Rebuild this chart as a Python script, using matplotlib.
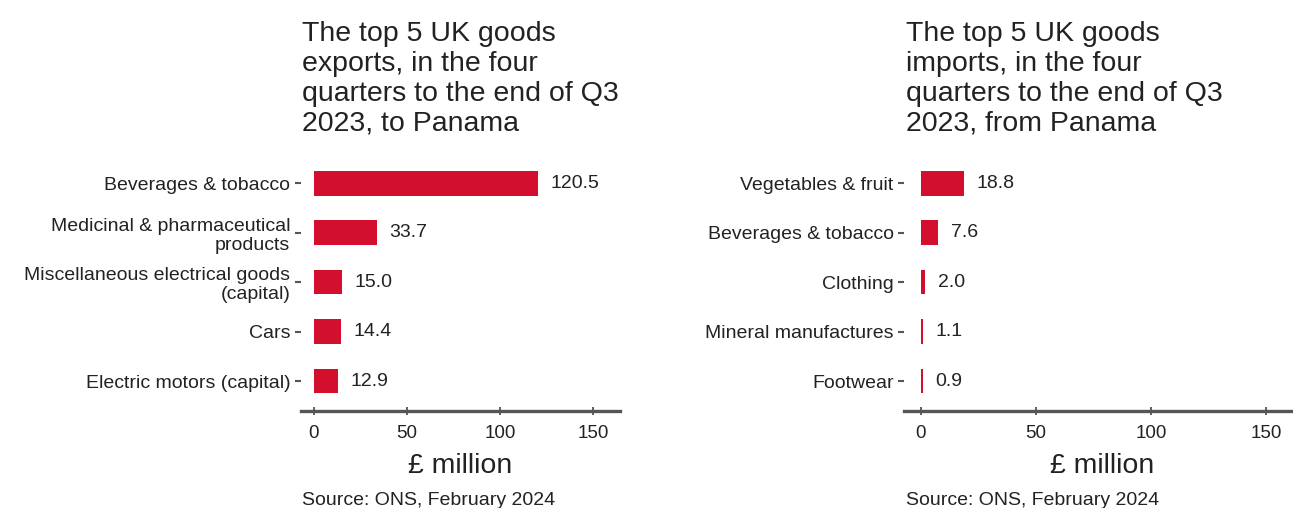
import matplotlib.pyplot as plt

plt.rcParams['font.family'] = ['Liberation Sans', 'DejaVu Sans']

# exports to Panama (top to bottom)
export_labels = ['Beverages & tobacco', 'Medicinal & pharmaceutical\nproducts',
                 'Miscellaneous electrical goods\n(capital)', 'Cars',
                 'Electric motors (capital)']
export_values = [120.5, 33.7, 15.0, 14.4, 12.9]

# imports from Panama (top to bottom)
import_labels = ['Vegetables & fruit', 'Beverages & tobacco', 'Clothing',
                 'Mineral manufactures', 'Footwear']
import_values = [18.8, 7.6, 2.0, 1.1, 0.9]

x_ticks = [0, 50, 100, 150]

titles = ['The top 5 UK goods\nexports, in the four\nquarters to the end of Q3\n2023, to Panama',
          'The top 5 UK goods\nimports, in the four\nquarters to the end of Q3\n2023, from Panama']
source = 'Source: ONS, February 2024'

bar_colour = '#d20f2d'
text_colour = '#222222'
axis_colour = '#555555'

W, H = 1293, 508


def draw_panel(fig, rect_px, labels, values, title):
    # rect_px = left, top, right, bottom in pixels of the final picture
    l, t, r, b = rect_px
    ax = fig.add_axes([l / W, 1 - b / H, (r - l) / W, (b - t) / H])
    pos = list(range(len(values)))
    ax.barh(pos, values, height=0.5, color=bar_colour)
    for p, v in zip(pos, values):
        ax.annotate(f'{v:.1f}', (v, p), xytext=(9, 0), textcoords='offset points',
                    va='center', ha='left', fontsize=14, color=text_colour)
    ax.set_yticks(pos)
    ax.set_yticklabels(labels, fontsize=14, color=text_colour, linespacing=1.15)
    ax.set_ylim(len(values) - 0.4, -0.6)
    ax.set_xlim(-7.2, 164.6)
    ax.set_xticks(x_ticks)
    ax.tick_params(axis='x', labelsize=13.5, colors=text_colour, length=6, width=1.3,
                   color=axis_colour, pad=7, direction='inout')
    ax.tick_params(axis='y', length=4.5, width=1.5, color=axis_colour, pad=3)
    for s in ['top', 'right', 'left']:
        ax.spines[s].set_visible(False)
    ax.spines['bottom'].set_color(axis_colour)
    ax.spines['bottom'].set_linewidth(2.4)
    ax.set_xlabel('£ million', fontsize=20.5, color=text_colour)
    ax.xaxis.set_label_coords(0.5, -0.163)
    fig.text((l + 1.5) / W, 1 - 21 / H, title, ha='left', va='top',
             fontsize=20.5, color=text_colour, linespacing=1.2)
    fig.text((l + 1.5) / W, 1 - 492 / H, source, ha='left', va='top',
             fontsize=14, color=text_colour)
    return ax


fig = plt.figure(figsize=(W / 100, H / 100), dpi=100)
draw_panel(fig, (300.6, 153.5, 620.0, 410.7), export_labels, export_values, titles[0])
draw_panel(fig, (904.1, 153.5, 1299.6, 410.7), import_labels, import_values, titles[1])

fig.savefig('out.png', dpi=100)
